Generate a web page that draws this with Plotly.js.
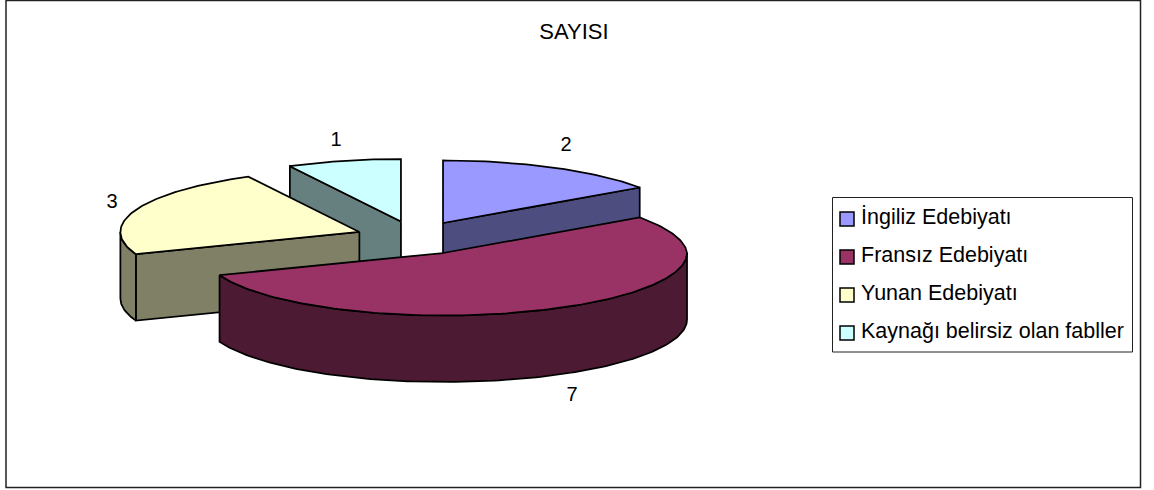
<!DOCTYPE html>
<html>
<head>
<meta charset="utf-8">
<script src="https://cdn.plot.ly/plotly-3.0.1.min.js"></script>
<style>html,body{margin:0;padding:0;background:#fff}#chart{width:1154px;height:490px}</style>
</head>
<body>
<div id="chart"></div>
<script>
// Exploded 3D pie of fable counts by literature of origin
const categories = ["İngiliz Edebiyatı", "Fransız Edebiyatı", "Yunan Edebiyatı", "Kaynağı belirsiz olan fabller"];
const values = [2, 7, 3, 1];
const topColors = ["#9999FF", "#993366", "#FFFFCC", "#CCFFFF"];
const sideColors = ["#4D4D80", "#4D1A33", "#808066", "#668080"];
const chartTitle = "SAYISI";

// Projection of the tilted pie
const CX = 415.25, CY = 238, RX = 239, RY = 62.5, DEPTH = 66.5;
const FRONT_RIGHT_BULGE = 5;
const EXPLODE_X = 59.75, EXPLODE_Y = 16.95;
const LABEL_XY = [[566, 146], [572, 396], [112, 203], [336, 141]];
const FONT = "Liberation Sans, Arial, sans-serif";

const total = values.reduce((a, b) => a + b, 0);
let run = 0;
const slices = values.map((v, i) => {
  const a0 = run / total * 2 * Math.PI;
  run += v;
  const a1 = run / total * 2 * Math.PI;
  const mid = (a0 + a1) / 2;
  return {i, a0, a1, ax: CX + EXPLODE_X * Math.sin(mid), ay: CY - EXPLODE_Y * Math.cos(mid)};
});

// The near right side of the rim sits slightly wider because of the perspective
const bulgeStart = slices[0].a1;
const radiusX = a => {
  if (a <= bulgeStart || a >= Math.PI) return RX;
  return RX + FRONT_RIGHT_BULGE * Math.min(1, (a - bulgeStart) / (Math.PI / 2 - bulgeStart));
};
const rimPoint = (s, a, drop) => [s.ax + radiusX(a) * Math.sin(a), s.ay - RY * Math.cos(a) + drop];
const range = (a0, a1) => {
  const n = Math.max(2, Math.ceil(Math.abs(a1 - a0) / 0.02));
  return Array.from({length: n + 1}, (_, k) => a0 + (a1 - a0) * k / n);
};
const polygon = (pts, color, name) => ({
  type: "scatter", mode: "lines", fill: "toself", fillcolor: color,
  x: pts.map(p => p[0]), y: pts.map(p => p[1]),
  line: {color: "#000", width: 1.75, shape: "linear"},
  name, showlegend: false, hoverinfo: "name"
});

const topFace = s => polygon(
  [[s.ax, s.ay], ...range(s.a0, s.a1).map(a => rimPoint(s, a, 0)), [s.ax, s.ay]],
  topColors[s.i], categories[s.i]);
const radialFace = (s, a) => {
  const p = rimPoint(s, a, 0);
  return polygon([[s.ax, s.ay], p, [p[0], p[1] + DEPTH], [s.ax, s.ay + DEPTH], [s.ax, s.ay]],
    sideColors[s.i], categories[s.i]);
};
const rimFace = (s, a0, a1) => {
  const arc = range(a0, a1);
  return polygon([...arc.map(a => rimPoint(s, a, 0)), ...arc.slice().reverse().map(a => rimPoint(s, a, DEPTH)), rimPoint(s, a0, 0)],
    sideColors[s.i], categories[s.i]);
};

const [blue, maroon, yellow, cyan] = slices;
const traces = [
  radialFace(cyan, cyan.a0), topFace(cyan),
  radialFace(blue, blue.a1), topFace(blue),
  radialFace(yellow, yellow.a0), rimFace(yellow, yellow.a0, 1.5 * Math.PI), topFace(yellow),
  rimFace(maroon, Math.PI / 2, maroon.a1), topFace(maroon),
  {
    type: "scatter", mode: "text", x: LABEL_XY.map(p => p[0]), y: LABEL_XY.map(p => p[1]),
    text: values.map(String), textposition: "middle center",
    textfont: {family: FONT, size: 20, color: "#000"}, showlegend: false, hoverinfo: "skip"
  }
];

// Legend box, one row per category
const LEGEND = {x0: 832.5, x1: 1132.5, y0: 197.5, y1: 352, rowTop: 219, rowStep: 38, swatch: 7, swatchX: 847, textX: 860};
const shapes = [
  {type: "rect", xref: "x", yref: "y", x0: 6, x1: 1140.5, y0: 0.5, y1: 487.5, line: {color: "#222", width: 1.5}, layer: "below"},
  {type: "rect", xref: "x", yref: "y", x0: LEGEND.x0, x1: LEGEND.x1, y0: LEGEND.y0, y1: LEGEND.y1, line: {color: "#222", width: 1}, fillcolor: "#fff"}
];
const annotations = [];
categories.forEach((c, i) => {
  const y = LEGEND.rowTop + i * LEGEND.rowStep;
  shapes.push({type: "rect", xref: "x", yref: "y", x0: LEGEND.swatchX - LEGEND.swatch, x1: LEGEND.swatchX + LEGEND.swatch,
    y0: y - LEGEND.swatch, y1: y + LEGEND.swatch, fillcolor: topColors[i], line: {color: "#000", width: 1.5}});
  annotations.push({xref: "x", yref: "y", x: LEGEND.textX, y: y - 2, text: c, showarrow: false, xanchor: "left", yanchor: "middle",
    xshift: -1, font: {family: FONT, size: 21.5, color: "#000"}});
});

Plotly.newPlot("chart", traces, {
  width: 1154, height: 490, margin: {l: 0, r: 0, t: 0, b: 0},
  paper_bgcolor: "#fff", plot_bgcolor: "#fff", showlegend: false,
  title: {text: chartTitle, font: {family: FONT, size: 22, color: "#000"}, x: 574 / 1154, xanchor: "center", y: 1 - 31 / 490, yanchor: "middle"},
  xaxis: {range: [0, 1154], visible: false, fixedrange: true},
  yaxis: {range: [490, 0], visible: false, fixedrange: true},
  shapes, annotations
}, {displayModeBar: false, staticPlot: true});
</script>
</body>
</html>
